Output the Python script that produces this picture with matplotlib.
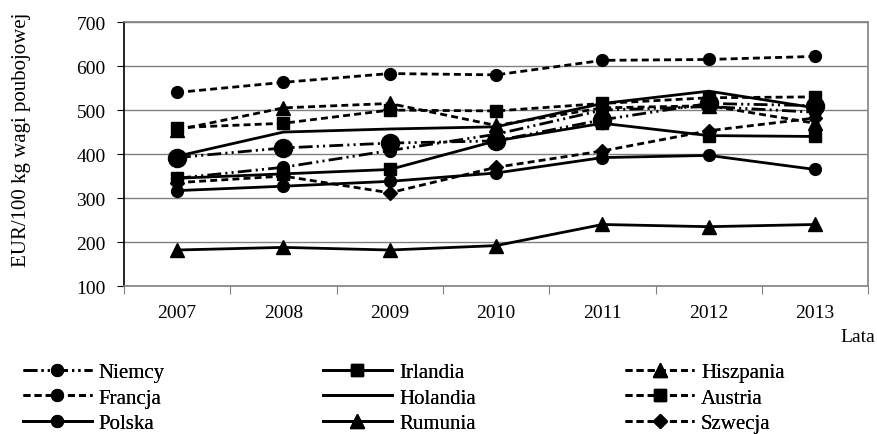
import matplotlib
matplotlib.use("Agg")
import matplotlib.pyplot as plt
import numpy as np

plt.rcParams["font.family"] = ["Liberation Serif", "DejaVu Serif"]

years = ["2007", "2008", "2009", "2010", "2011", "2012", "2013"]

niemcy = [345, 370, 408, 445, 500, 508, 495]
francja = [540, 563, 583, 580, 613, 615, 622]
polska = [317, 327, 338, 357, 392, 397, 365]
irlandia = [345, 355, 365, 430, 470, 442, 440]
holandia = [395, 450, 457, 462, 515, 543, 505]
rumunia = [182, 188, 182, 192, 240, 235, 240]
hiszpania = [455, 505, 515, 465, 505, 510, 470]
austria = [460, 470, 500, 498, 515, 528, 530]
szwecja = [335, 350, 312, 370, 407, 453, 482]
# series drawn with large circles, not listed in the legend
inne = [392, 414, 425, 430, 478, 515, 510]

dashed = (0, (2.5, 1.5))
dashdotdot = (0, (5, 1.5, 0.75, 1.5, 0.75, 1.5))

fig = plt.figure(figsize=(8.78, 4.35), dpi=100)
ax = fig.add_axes([0.141, 0.340, 0.848, 0.607])

x = np.arange(len(years))
lw = 2
c = "black"

ax.plot(x, inne, color=c, lw=lw, ls=dashdotdot, marker="o", ms=13, label="_nolegend_")
l_niem, = ax.plot(x, niemcy, color=c, lw=lw, ls=dashdotdot, marker="o", ms=8.5, label="Niemcy")
l_fra, = ax.plot(x, francja, color=c, lw=lw, ls=dashed, marker="o", ms=8.5, label="Francja")
l_pol, = ax.plot(x, polska, color=c, lw=lw, ls="-", marker="o", ms=8.5, label="Polska")
l_irl, = ax.plot(x, irlandia, color=c, lw=lw, ls="-", marker="s", ms=8, label="Irlandia")
l_hol, = ax.plot(x, holandia, color=c, lw=lw, ls="-", label="Holandia")
l_rum, = ax.plot(x, rumunia, color=c, lw=lw, ls="-", marker="^", ms=9.5, label="Rumunia")
l_his, = ax.plot(x, hiszpania, color=c, lw=lw, ls=dashed, marker="^", ms=9.5, label="Hiszpania")
l_aus, = ax.plot(x, austria, color=c, lw=lw, ls=dashed, marker="s", ms=8, label="Austria")
l_szw, = ax.plot(x, szwecja, color=c, lw=lw, ls=dashed, marker="D", ms=7.5, label="Szwecja")

ax.set_xlim(-0.5, len(years) - 0.5)
ax.set_ylim(100, 700)
ax.set_yticks(range(100, 701, 100))
ax.yaxis.grid(True, color="#808080", lw=1)
ax.set_axisbelow(True)

ax.set_xticks(np.arange(-0.5, len(years)), labels=[])
ax.set_xticks(x, labels=years, minor=True)
ax.tick_params(axis="x", which="major", length=6, direction="out", color="#808080")
ax.tick_params(axis="x", which="minor", length=0, pad=13, labelsize=14)
ax.tick_params(axis="y", length=5, direction="out", labelsize=14, pad=8)

for side in ["top", "right", "bottom"]:
    ax.spines[side].set_color("#808080")
    ax.spines[side].set_linewidth(1.2)
ax.spines["left"].set_color("black")
ax.spines["left"].set_linewidth(1.2)

ax.set_ylabel("EUR/100 kg wagi poubojowej", fontsize=15)
ax.yaxis.set_label_coords(-0.125, 0.557)
fig.text(0.997, 0.225, "Lata", fontsize=14, ha="right", va="center")

columns = [
    ([l_niem, l_fra, l_pol], 0.026),
    ([l_irl, l_hol, l_rum], 0.368),
    ([l_his, l_aus, l_szw], 0.712),
]
for col_handles, x0 in columns:
    leg = fig.legend(handles=col_handles, labels=[h.get_label() for h in col_handles],
                     loc="upper left", bbox_to_anchor=(x0, 0.164),
                     frameon=False, prop={"family": "Liberation Serif", "size": 15},
                     handlelength=3.3, handletextpad=0.34,
                     labelspacing=0.28, borderpad=0, borderaxespad=0)
    fig.add_artist(leg)

fig.savefig("out.png", dpi=100)
